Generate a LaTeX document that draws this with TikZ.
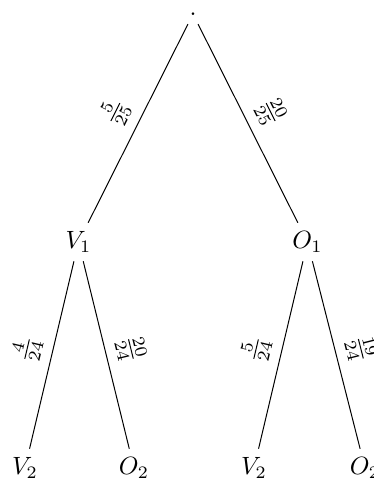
\documentclass[tikz,border=0pt]{standalone}
\usetikzlibrary{positioning}
\tikzset{
  branch/.style={draw, line width=0.4pt},
  prob/.style={midway, sloped, above, inner sep=4pt}
}

\begin{document}
\begin{tikzpicture}[x=0.4pt,y=-0.4pt]
  \useasboundingbox (0,0) rectangle (373,479);
  % first draw
  \node (root) at (193,14) {.};
  \node (v1) at (78.5,242) {$V_1$};
  \node (o1) at (307.5,242) {$O_1$};
  % second draw
  \node (v1v2) at (25,468) {$V_2$};
  \node (v1o2) at (134,468) {$O_2$};
  \node (o1v2) at (254,468) {$V_2$};
  \node (o1o2) at (365,468) {$O_2$};

  \draw[branch] (root) -- node[prob] {$\frac{5}{25}$} (v1);
  \draw[branch] (root) -- node[prob] {$\frac{20}{25}$} (o1);
  \draw[branch] (v1) -- node[prob] {$\frac{4}{24}$} (v1v2);
  \draw[branch] (v1) -- node[prob] {$\frac{20}{24}$} (v1o2);
  \draw[branch] (o1) -- node[prob] {$\frac{5}{24}$} (o1v2);
  \draw[branch] (o1) -- node[prob] {$\frac{19}{24}$} (o1o2);
\end{tikzpicture}
\end{document}
